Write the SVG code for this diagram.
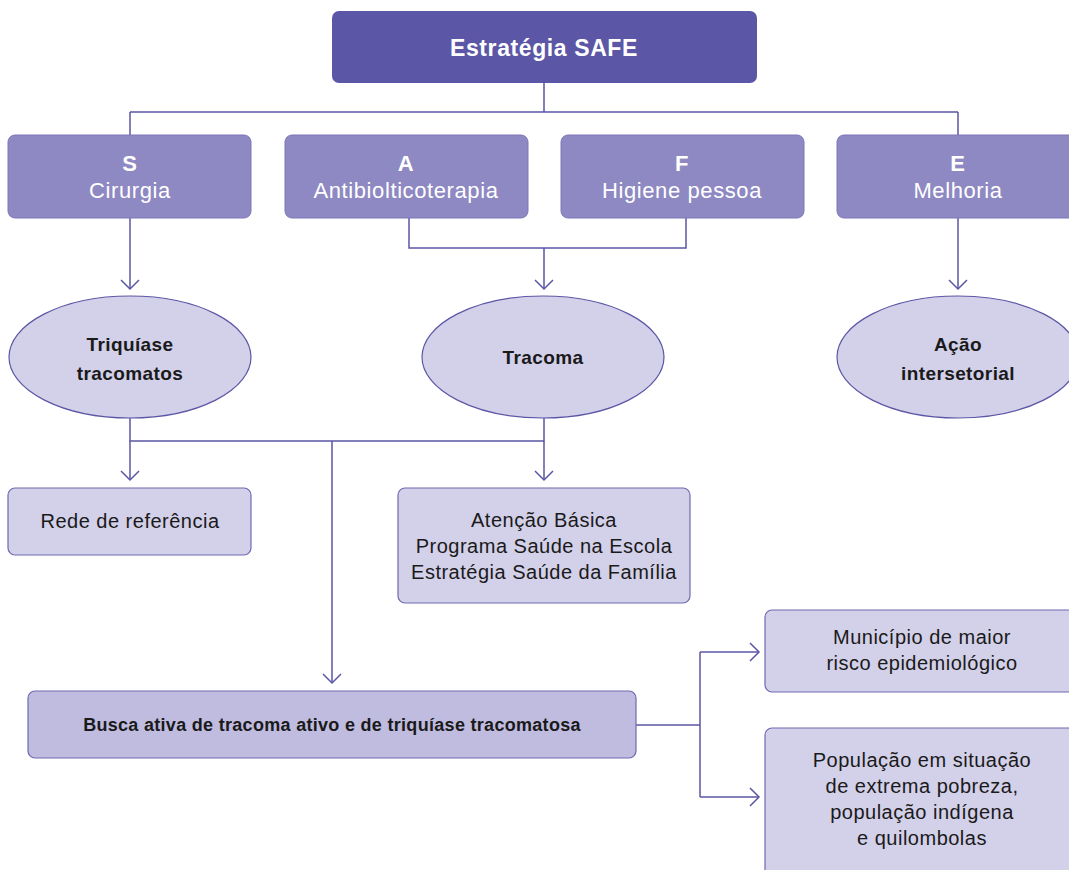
<svg xmlns="http://www.w3.org/2000/svg" width="1069" height="870" viewBox="0 0 1069 870">
  <defs>
    <marker id="arr" markerWidth="20" markerHeight="20" viewBox="-10 -10 20 20" refX="0" refY="0" orient="auto" markerUnits="userSpaceOnUse">
      <path d="M-9,-9 L0,0 L-9,9" fill="none" stroke="#5b56a5" stroke-width="1.5"/>
    </marker>
    <style>
      .top { fill: #5b56a5; }
      .lvl { fill: #8e89c2; stroke: #7c77b8; stroke-width: 1; }
      .oval { fill: #d3d0e9; stroke: #5b56a5; stroke-width: 1.2; }
      .box { fill: #d3d0e9; stroke: #6e69b0; stroke-width: 1.2; }
      .dark { fill: #c0bce0; stroke: #6e69b0; stroke-width: 1.2; }
      .ln { fill: none; stroke: #5b56a5; stroke-width: 1.5; }
      text { font-family: "Liberation Sans", Arial, sans-serif; text-anchor: middle; }
      .title { fill: #ffffff; font-size: 23px; font-weight: bold; letter-spacing: 0.6px; }
      .wt { fill: #ffffff; font-size: 22px; letter-spacing: 0.6px; }
      .ov { fill: #1a1a1a; font-size: 19px; font-weight: bold; letter-spacing: 0.4px; }
      .bk { fill: #1a1a1a; font-size: 20px; letter-spacing: 0.5px; }
      .bs { fill: #1a1a1a; font-size: 18px; font-weight: bold; letter-spacing: 0.3px; }
      .b { font-weight: bold; }
    </style>
  </defs>

  <!-- connectors -->
  <g id="connectors">
    <path class="ln" d="M544,83 V112 M130,112 H958 M130,112 V135 M958,112 V135"/>
    <path class="ln" d="M130,218 V289" marker-end="url(#arr)"/>
    <path class="ln" d="M409,218 V248 H686 V218 M544,248 V289" marker-end="url(#arr)"/>
    <path class="ln" d="M958,218 V289" marker-end="url(#arr)"/>
    <path class="ln" d="M130,418 V441 H544 V418"/>
    <path class="ln" d="M130,441 V480" marker-end="url(#arr)"/>
    <path class="ln" d="M544,441 V480" marker-end="url(#arr)"/>
    <path class="ln" d="M332,441 V683" marker-end="url(#arr)"/>
    <path class="ln" d="M636,725 H700 M700,652 V797"/>
    <path class="ln" d="M700,652 H759" marker-end="url(#arr)"/>
    <path class="ln" d="M700,797 H759" marker-end="url(#arr)"/>
  </g>

  <g id="safe">
    <rect class="top" x="332" y="11" width="425" height="72" rx="7"/>
    <text class="title" x="544" y="56">Estratégia SAFE</text>
  </g>

  <g id="s-cirurgia">
    <rect class="lvl" x="8" y="135" width="243" height="83" rx="7"/>
    <text class="wt b" x="130" y="171">S</text>
    <text class="wt" x="130" y="198">Cirurgia</text>
  </g>
  <g id="a-antibioticoterapia">
    <rect class="lvl" x="285" y="135" width="243" height="83" rx="7"/>
    <text class="wt b" x="406" y="171">A</text>
    <text class="wt" x="406" y="198">Antibiolticoterapia</text>
  </g>
  <g id="f-higiene">
    <rect class="lvl" x="561" y="135" width="243" height="83" rx="7"/>
    <text class="wt b" x="682" y="171">F</text>
    <text class="wt" x="682" y="198">Higiene pessoa</text>
  </g>
  <g id="e-melhoria">
    <rect class="lvl" x="837" y="135" width="250" height="83" rx="7"/>
    <text class="wt b" x="958" y="171">E</text>
    <text class="wt" x="958" y="198">Melhoria</text>
  </g>

  <g id="triquiase">
    <ellipse class="oval" cx="130" cy="357" rx="121" ry="61"/>
    <text class="ov" x="130" y="351">Triquíase</text>
    <text class="ov" x="130" y="380">tracomatos</text>
  </g>
  <g id="tracoma">
    <ellipse class="oval" cx="543" cy="357" rx="121" ry="61"/>
    <text class="ov" x="543" y="364">Tracoma</text>
  </g>
  <g id="acao">
    <ellipse class="oval" cx="958" cy="357" rx="121" ry="61"/>
    <text class="ov" x="958" y="351">Ação</text>
    <text class="ov" x="958" y="380">intersetorial</text>
  </g>

  <g id="rede">
    <rect class="box" x="8" y="488" width="243" height="67" rx="7"/>
    <text class="bk" x="130" y="528">Rede de referência</text>
  </g>
  <g id="atencao">
    <rect class="box" x="398" y="488" width="292" height="115" rx="7"/>
    <text class="bk" x="544" y="527">Atenção Básica</text>
    <text class="bk" x="544" y="553">Programa Saúde na Escola</text>
    <text class="bk" x="544" y="579">Estratégia Saúde da Família</text>
  </g>

  <g id="busca">
    <rect class="dark" x="28" y="691" width="608" height="67" rx="7"/>
    <text class="bs" x="332" y="731">Busca ativa de tracoma ativo e de triquíase tracomatosa</text>
  </g>

  <g id="municipio">
    <rect class="box" x="765" y="610" width="320" height="82" rx="7"/>
    <text class="bk" x="922" y="644">Município de maior</text>
    <text class="bk" x="922" y="670">risco epidemiológico</text>
  </g>
  <g id="populacao">
    <rect class="box" x="765" y="728" width="320" height="160" rx="7"/>
    <text class="bk" x="922" y="767">População em situação</text>
    <text class="bk" x="922" y="793">de extrema pobreza,</text>
    <text class="bk" x="922" y="819">população indígena</text>
    <text class="bk" x="922" y="845">e quilombolas</text>
  </g>
</svg>
